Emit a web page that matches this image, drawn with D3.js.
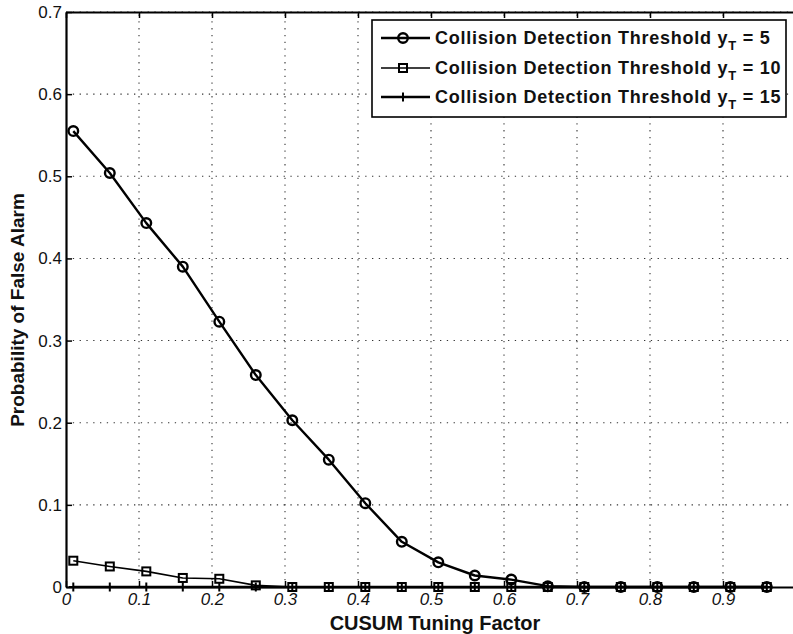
<!DOCTYPE html>
<html>
<head>
<meta charset="utf-8">
<script src="https://cdn.jsdelivr.net/npm/d3@7"></script>
<style>
  html, body { margin: 0; padding: 0; background: #fff; }
  svg { display: block; }
  text { font-family: "Liberation Sans", Arial, Helvetica, sans-serif; fill: #111; }
</style>
</head>
<body>
<svg id="chart" width="793" height="634"></svg>
<script>
// ---- data ----
const xValues = [0.01, 0.06, 0.11, 0.16, 0.21, 0.26, 0.31, 0.36, 0.41, 0.46,
                 0.51, 0.56, 0.61, 0.66, 0.71, 0.76, 0.81, 0.86, 0.91, 0.96];
const seriesT5  = [0.555, 0.504, 0.443, 0.390, 0.323, 0.258, 0.203, 0.155, 0.102, 0.055,
                   0.030, 0.014, 0.009, 0.001, 0, 0, 0, 0, 0, 0];
const seriesT10 = [0.032, 0.025, 0.019, 0.011, 0.010, 0.002, 0, 0, 0, 0,
                   0, 0, 0, 0, 0, 0, 0, 0, 0, 0];
const seriesT15 = [0, 0, 0, 0, 0, 0, 0, 0, 0, 0,
                   0, 0, 0, 0, 0, 0, 0, 0, 0, 0];
const seriesNames = ["Collision Detection Threshold y", "Collision Detection Threshold y", "Collision Detection Threshold y"];
const seriesSubs = ["T", "T", "T"];
const seriesSuffix = [" = 5", " = 10", " = 15"];
const seriesMarkers = ["circle", "square", "plus"];
const xTicks = [0, 0.1, 0.2, 0.3, 0.4, 0.5, 0.6, 0.7, 0.8, 0.9];
const xTickLabels = ["0", "0.1", "0.2", "0.3", "0.4", "0.5", "0.6", "0.7", "0.8", "0.9"];
const yTicks = [0, 0.1, 0.2, 0.3, 0.4, 0.5, 0.6, 0.7];
const yTickLabels = ["0", "0.1", "0.2", "0.3", "0.4", "0.5", "0.6", "0.7"];
const xTitle = "CUSUM Tuning Factor";
const yTitle = "Probability of False Alarm";

// ---- layout ----
const svg = d3.select("#chart");
const L = 66, R = 796, T = 12, B = 587;
const x = d3.scaleLinear().domain([0, 1]).range([L, R]);
const y = d3.scaleLinear().domain([0, 0.7]).range([B, T]);

// grid
const grid = svg.append("g").attr("stroke", "#333").attr("stroke-width", 1.1)
  .attr("stroke-dasharray", "1.3,5.5");
xTicks.slice(1).forEach(t => {
  grid.append("line").attr("x1", x(t)).attr("x2", x(t)).attr("y1", B).attr("y2", T);
});
yTicks.slice(1).forEach(t => {
  grid.append("line").attr("x1", L).attr("x2", R).attr("y1", y(t)).attr("y2", y(t));
});

// axes
const xAxis = d3.axisBottom(x).tickValues(xTicks).tickFormat((d, i) => xTickLabels[i])
  .tickSizeInner(-6).tickSizeOuter(0).tickPadding(6);
const gx = svg.append("g").attr("transform", `translate(0,${B})`).call(xAxis);
gx.select(".domain").attr("stroke", "#000").attr("stroke-width", 2.2);
gx.selectAll(".tick line").attr("stroke", "#000").attr("stroke-width", 1.5);
gx.selectAll(".tick text").attr("font-size", 17).attr("font-style", "italic")
  .attr("fill", "#111").attr("font-family", "Liberation Sans, Arial, sans-serif");

const yAxis = d3.axisLeft(y).tickValues(yTicks).tickFormat((d, i) => yTickLabels[i])
  .tickSizeInner(-6).tickSizeOuter(0).tickPadding(4);
const gy = svg.append("g").attr("transform", `translate(${L},0)`).call(yAxis);
gy.select(".domain").attr("stroke", "#000").attr("stroke-width", 2.2);
gy.selectAll(".tick line").attr("stroke", "#000").attr("stroke-width", 1.5);
gy.selectAll(".tick text").attr("font-size", 17).attr("fill", "#111")
  .attr("font-family", "Liberation Sans, Arial, sans-serif");

// top border with inward ticks
const xTop = d3.axisTop(x).tickValues(xTicks).tickFormat("").tickSizeInner(-6).tickSizeOuter(0);
const gt = svg.append("g").attr("transform", `translate(0,${T})`).call(xTop);
gt.select(".domain").attr("stroke", "#000").attr("stroke-width", 2);
gt.selectAll(".tick line").attr("stroke", "#000").attr("stroke-width", 1.5);

// titles
svg.append("text").attr("x", 435).attr("y", 630).attr("text-anchor", "middle")
  .attr("font-size", 20).attr("font-weight", "bold").text(xTitle);
svg.append("text").attr("transform", `translate(24,${310}) rotate(-90)`)
  .attr("text-anchor", "middle").attr("font-size", 19).attr("font-weight", "bold").text(yTitle);

// markers
function drawMarker(g, type, cx, cy) {
  if (type === "circle") {
    g.append("circle").attr("cx", cx).attr("cy", cy).attr("r", 4.8)
      .attr("fill", "none").attr("stroke", "#000").attr("stroke-width", 2.4);
  } else if (type === "square") {
    g.append("rect").attr("x", cx - 4).attr("y", cy - 4).attr("width", 8).attr("height", 8)
      .attr("fill", "none").attr("stroke", "#000").attr("stroke-width", 2);
  } else {
    g.append("path").attr("d", `M${cx - 4.5},${cy}H${cx + 4.5}M${cx},${cy - 4.5}V${cy + 4.5}`)
      .attr("fill", "none").attr("stroke", "#000").attr("stroke-width", 2);
  }
}

const allSeries = [seriesT5, seriesT10, seriesT15];
const lineWidths = [2.4, 1.6, 2.4];
const line = d3.line().x(d => x(d[0])).y(d => y(d[1]));
const plot = svg.append("g");
allSeries.forEach((vals, si) => {
  const pts = xValues.map((xv, i) => [xv, vals[i]]);
  plot.append("path").datum(pts).attr("d", line).attr("fill", "none")
    .attr("stroke", "#000").attr("stroke-width", lineWidths[si]).attr("stroke-linejoin", "round");
});
allSeries.forEach((vals, si) => {
  const g = plot.append("g");
  xValues.forEach((xv, i) => drawMarker(g, seriesMarkers[si], x(xv), y(vals[i])));
});

// legend
const lg = svg.append("g");
lg.append("rect").attr("x", 372).attr("y", 20).attr("width", 414).attr("height", 97)
  .attr("fill", "#fff").attr("stroke", "#000").attr("stroke-width", 1.6);
const rowY = [38, 68, 97];
seriesMarkers.forEach((m, i) => {
  lg.append("line").attr("x1", 381).attr("x2", 430).attr("y1", rowY[i]).attr("y2", rowY[i])
    .attr("stroke", "#000").attr("stroke-width", lineWidths[i]);
  drawMarker(lg, m, 403, rowY[i]);
  const t = lg.append("text").attr("x", 435).attr("y", rowY[i] + 6)
    .attr("font-size", 18).attr("font-weight", "bold").attr("letter-spacing", 0.75);
  t.append("tspan").text(seriesNames[i]);
  t.append("tspan").attr("dy", 6).attr("font-size", 13).text(seriesSubs[i]);
  t.append("tspan").attr("dy", -6).text(seriesSuffix[i]);
});
</script>
</body>
</html>
